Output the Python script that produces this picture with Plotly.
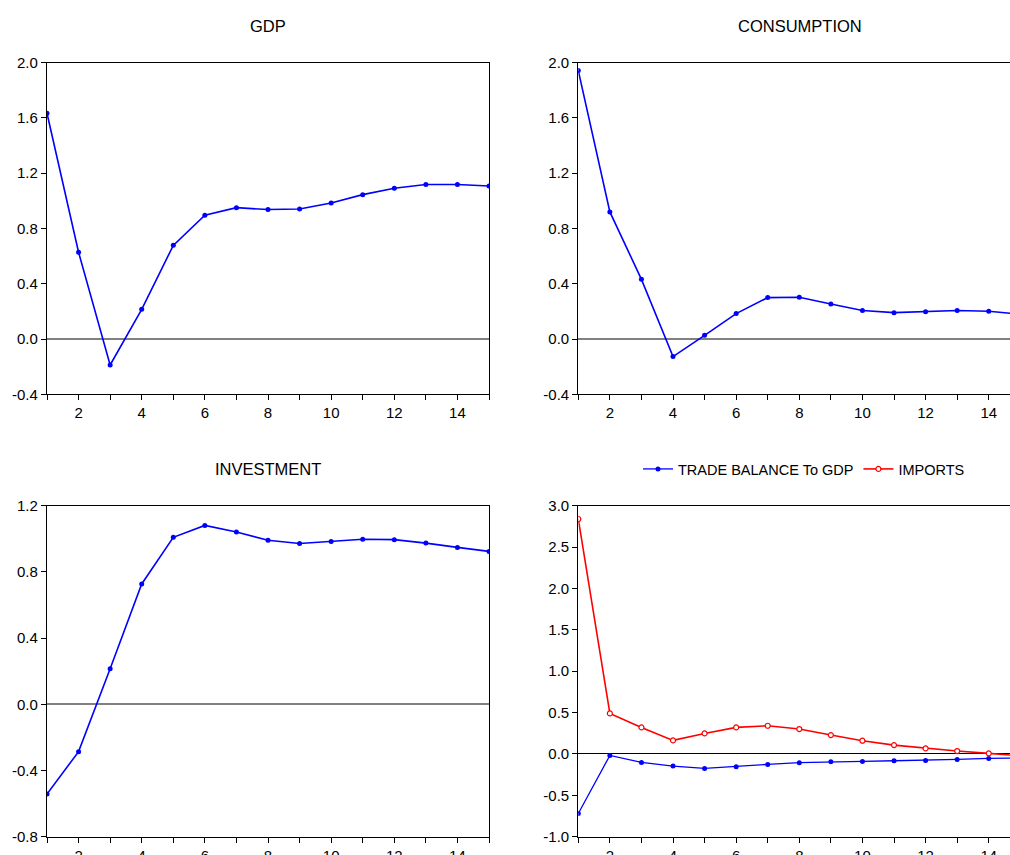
import plotly.graph_objects as go

periods = list(range(1, 16))

gdp = [1.634, 0.628, -0.188, 0.215, 0.678, 0.896, 0.951, 0.937, 0.941, 0.985,
       1.045, 1.091, 1.118, 1.118, 1.108]
consumption = [1.943, 0.920, 0.432, -0.127, 0.027, 0.184, 0.300, 0.302, 0.254, 0.206,
               0.191, 0.198, 0.206, 0.201, 0.179]
investment = [-0.542, -0.286, 0.215, 0.727, 1.009, 1.081, 1.041, 0.991, 0.972, 0.984,
              0.997, 0.995, 0.974, 0.948, 0.924]
trade_balance = [-0.719, -0.018, -0.102, -0.147, -0.175, -0.155, -0.126, -0.106, -0.094,
                 -0.090, -0.082, -0.078, -0.066, -0.054, -0.048]
imports = [2.839, 0.490, 0.321, 0.164, 0.248, 0.321, 0.341, 0.301, 0.228, 0.160,
           0.107, 0.067, 0.035, 0.007, -0.022]

titles = ["GDP", "CONSUMPTION", "INVESTMENT"]
legend_names = ["TRADE BALANCE To GDP", "IMPORTS"]

x_tickvals = periods
x_ticktext = [str(p) if p % 2 == 0 else "" for p in periods]

y_ticks_top = [-0.4, 0.0, 0.4, 0.8, 1.2, 1.6, 2.0]
y_ticks_inv = [-0.8, -0.4, 0.0, 0.4, 0.8, 1.2]
y_ticks_tb = [-1.0, -0.5, 0.0, 0.5, 1.0, 1.5, 2.0, 2.5, 3.0]

FONT = "Liberation Sans, Arial, sans-serif"
BLUE = "#0000ff"
RED = "#ff0000"

W, H = 1010, 855
# pixel geometry of the panels
LX0, LX1 = 47, 489
RX0 = 578.3
unit = (LX1 - LX0) / 14.0
right_end = 1 + (W - RX0) / unit
TY0, TY1 = 62.7, 394.3
BY0, BY1 = 505.7, 836.7


def fy(p):
    return (H - p) / H


def lab(v):
    return f"{v:.1f}".replace("\u2212", "-")


fig = go.Figure()

line_kw = dict(color=BLUE, width=1.6)
mk_kw = dict(color=BLUE, size=5, symbol="circle")

fig.add_trace(go.Scatter(x=periods, y=gdp, mode="lines+markers", line=line_kw,
                         marker=mk_kw, xaxis="x", yaxis="y", showlegend=False))
fig.add_trace(go.Scatter(x=periods, y=consumption, mode="lines+markers", line=line_kw,
                         marker=mk_kw, xaxis="x2", yaxis="y2", showlegend=False))
fig.add_trace(go.Scatter(x=periods, y=investment, mode="lines+markers", line=line_kw,
                         marker=mk_kw, xaxis="x3", yaxis="y3", showlegend=False))
fig.add_trace(go.Scatter(x=periods, y=trade_balance, mode="lines+markers",
                         line=dict(color=BLUE, width=1.3), marker=mk_kw,
                         xaxis="x4", yaxis="y4", name=legend_names[0]))
fig.add_trace(go.Scatter(x=periods, y=imports, mode="lines+markers",
                         line=dict(color=RED, width=1.6),
                         marker=dict(color="white", size=5, symbol="circle",
                                     line=dict(color=RED, width=1.2)),
                         xaxis="x4", yaxis="y4", name=legend_names[1]))

tickfont = dict(family=FONT, size=15, color="#000000")


def xax(dom, rng, anchor):
    return dict(domain=dom, range=rng, anchor=anchor, tickvals=x_tickvals,
                ticktext=x_ticktext, ticks="outside", ticklen=5, tickwidth=1,
                tickcolor="black", showline=True, linecolor="black", linewidth=1.2,
                mirror=True, showgrid=False, zeroline=False, tickfont=tickfont,
                fixedrange=True, automargin=False)


def yax(dom, rng, vals, anchor, mirror, zcolor, zwidth):
    return dict(domain=dom, range=rng, anchor=anchor, tickvals=vals,
                ticktext=[lab(v) for v in vals], ticks="outside", ticklen=5,
                tickwidth=1, tickcolor="black", showline=True, linecolor="black",
                linewidth=1.2, mirror=mirror, showgrid=False, zeroline=True,
                zerolinecolor=zcolor, zerolinewidth=zwidth, tickfont=tickfont,
                fixedrange=True, automargin=False)


ld = [LX0 / W, LX1 / W]
rd = [RX0 / W, 1.0]
td = [fy(TY1), fy(TY0)]
bd = [fy(BY1), fy(BY0)]

fig.update_layout(
    template="none",
    width=W, height=H, margin=dict(l=0, r=0, t=0, b=0, pad=0, autoexpand=False),
    paper_bgcolor="white", plot_bgcolor="white",
    font=dict(family=FONT, size=15, color="black"),
    xaxis=xax(ld, [1, 15], "y"),
    yaxis=yax(td, [-0.4, 2.0], y_ticks_top, "x", True, "#808080", 1.5),
    xaxis2=xax(rd, [1, right_end], "y2"),
    yaxis2=yax(td, [-0.4, 2.0], y_ticks_top, "x2", False, "#808080", 1.5),
    xaxis3=xax(ld, [1, 15], "y3"),
    yaxis3=yax(bd, [-0.8, 1.2], y_ticks_inv, "x3", True, "#808080", 1.5),
    xaxis4=xax(rd, [1, right_end], "y4"),
    yaxis4=yax(bd, [-1.0, 3.0], y_ticks_tb, "x4", False, "#000000", 1),
    showlegend=True,
    legend=dict(orientation="h", x=804 / W, xanchor="center", y=fy(469),
                yanchor="middle", font=dict(family=FONT, size=14.5, color="black"),
                bgcolor="rgba(0,0,0,0)", itemwidth=30, tracegroupgap=0),
    annotations=[
        dict(text=titles[0], x=(LX0 + LX1) / 2 / W, y=fy(26), xref="paper", yref="paper",
             showarrow=False, xanchor="center", yanchor="middle",
             font=dict(family=FONT, size=16.5, color="black")),
        dict(text=titles[1], x=800 / W, y=fy(26), xref="paper", yref="paper",
             showarrow=False, xanchor="center", yanchor="middle",
             font=dict(family=FONT, size=16.5, color="black")),
        dict(text=titles[2], x=(LX0 + LX1) / 2 / W, y=fy(469), xref="paper", yref="paper",
             showarrow=False, xanchor="center", yanchor="middle",
             font=dict(family=FONT, size=16.5, color="black")),
    ],
)

fig.write_html("out.html", config={"displayModeBar": False},
               post_script="document.body.style.margin='0';document.body.style.overflow='hidden';")
